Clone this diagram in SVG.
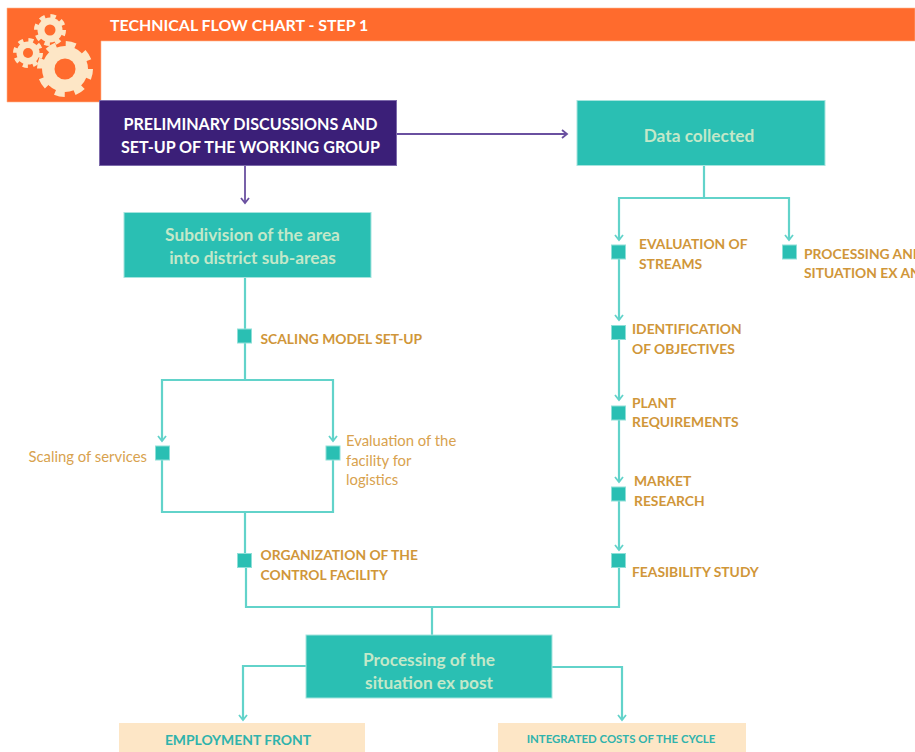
<svg xmlns="http://www.w3.org/2000/svg" width="915" height="752" viewBox="0 0 915 752">
<style>
text{font-family:Lato,"Liberation Sans",sans-serif}
.t{fill:#2abfb3;stroke:#a5e4de;stroke-width:1}
.s{fill:#2abfb3;stroke:#8fdfd8;stroke-width:1}
.c{fill:none;stroke:#62d3ca;stroke-width:2.200}
.p{fill:none;stroke:#6a50a0;stroke-width:1.800}
.w{fill:#fff;font-weight:700;font-size:16.100px;text-anchor:middle}
.g{fill:#c3e8c9;font-weight:700;font-size:17.300px;text-anchor:middle}
.l{fill:#d09639;font-weight:700;font-size:13.850px}
.n{fill:#d8a24e;font-size:14.850px}
.y{fill:#2fb3ac;font-weight:700;text-anchor:middle}
</style>
<defs>
<marker id="at" markerWidth="12" markerHeight="10" refX="9" refY="5" orient="auto" markerUnits="userSpaceOnUse"><path d="M4 1 L9 5 L4 9" fill="none" stroke="#62d3ca" stroke-width="1.8"/></marker>
<marker id="ap" markerWidth="12" markerHeight="10" refX="9" refY="5" orient="auto" markerUnits="userSpaceOnUse"><path d="M4 1 L9 5 L4 9" fill="none" stroke="#6a50a0" stroke-width="1.8"/></marker>
<clipPath id="pc"><rect x="306" y="635" width="246" height="54.500"/></clipPath>
</defs>
<g id="header">
<path d="M7 8H915V41H101V102H7Z" fill="#ff6b2d" stroke="#ffb58f" stroke-width="0.6"/>
<text x="110" y="31" fill="#fff" font-weight="700" font-size="15.950px">TECHNICAL FLOW CHART - STEP 1</text>
<g id="gears" fill="#fde6c6">
<circle cx="65" cy="69" r="23"/>
<circle cx="65" cy="69" r="24.500" fill="none" stroke="#fde6c6" stroke-width="7" stroke-dasharray="9.6 9.64"/>
<circle cx="65" cy="69" r="10.500" fill="#ff6b2d"/>
<circle cx="50" cy="30" r="12.500"/>
<circle cx="50" cy="30" r="13.500" fill="none" stroke="#fde6c6" stroke-width="5" stroke-dasharray="5.3 5.3"/>
<circle cx="50" cy="30" r="5.500" fill="#ff6b2d"/>
<circle cx="28" cy="53" r="11.500"/>
<circle cx="28" cy="53" r="12.500" fill="none" stroke="#fde6c6" stroke-width="5" stroke-dasharray="4.9 4.92"/>
<circle cx="28" cy="53" r="5" fill="#ff6b2d"/>
</g>
</g>
<g id="connectors">
<path class="p" d="M396 134H567" marker-end="url(#ap)"/>
<path class="p" d="M245 166V203" marker-end="url(#ap)"/>
<path class="c" d="M245 278V380"/>
<path class="c" d="M245 380H162V441" marker-end="url(#at)"/>
<path class="c" d="M245 380H333V441" marker-end="url(#at)"/>
<path class="c" d="M162 453V512H333V453"/>
<path class="c" d="M245 512V560"/>
<path class="c" d="M246 560V607H619V560"/>
<path class="c" d="M432 607V635"/>
<path class="c" d="M704 166V198"/>
<path class="c" d="M704 198H619V240" marker-end="url(#at)"/>
<path class="c" d="M704 198H789V240" marker-end="url(#at)"/>
<path class="c" d="M619 253V320" marker-end="url(#at)"/>
<path class="c" d="M619 333V400" marker-end="url(#at)"/>
<path class="c" d="M619 413V482" marker-end="url(#at)"/>
<path class="c" d="M619 494V550" marker-end="url(#at)"/>
<path class="c" d="M306 666H243V720" marker-end="url(#at)"/>
<path class="c" d="M552 667H622V720" marker-end="url(#at)"/>
</g>
<g id="n-prelim">
<rect x="99.500" y="100.500" width="297" height="65" fill="#3b1f78" stroke="#7d6bab"/>
<text class="w" x="250.500" y="129.500">PRELIMINARY DISCUSSIONS AND</text>
<text class="w" x="250.500" y="152.500">SET-UP OF THE WORKING GROUP</text>
</g>
<g id="n-data">
<rect class="t" x="577" y="100.500" width="248" height="65"/>
<text class="g" x="699" y="142">Data collected</text>
</g>
<g id="n-sub">
<rect class="t" x="124" y="212.500" width="247" height="65"/>
<text class="g" x="252.500" y="241">Subdivision of the area</text>
<text class="g" x="252.500" y="264">into district sub-areas</text>
</g>
<g id="n-scaling"><rect class="s" x="237.500" y="329" width="14" height="14"/><text class="l" x="260.500" y="344">SCALING MODEL SET-UP</text></g>
<g id="n-services"><rect class="s" x="155.500" y="446" width="14" height="14"/><text class="n" x="28.500" y="462">Scaling of services</text></g>
<g id="n-evalfac"><rect class="s" x="326" y="446" width="14" height="14"/>
<text class="n" x="346" y="446">Evaluation of the</text><text class="n" x="346" y="466">facility for</text><text class="n" x="346" y="485">logistics</text></g>
<g id="n-org"><rect class="s" x="237.500" y="553.500" width="14" height="14"/>
<text class="l" x="260.500" y="560">ORGANIZATION OF THE</text><text class="l" x="260.500" y="580">CONTROL FACILITY</text></g>
<g id="n-streams"><rect class="s" x="611.500" y="245" width="14" height="14"/>
<text class="l" x="639" y="249">EVALUATION OF</text><text class="l" x="639" y="269">STREAMS</text></g>
<g id="n-procan"><rect class="s" x="782.500" y="245" width="14" height="14"/>
<text class="l" x="804" y="259">PROCESSING AND</text><text class="l" x="804" y="278">SITUATION EX ANTE</text></g>
<g id="n-ident"><rect class="s" x="611.500" y="325.500" width="14" height="14"/>
<text class="l" x="632" y="334">IDENTIFICATION</text><text class="l" x="632" y="354">OF OBJECTIVES</text></g>
<g id="n-plant"><rect class="s" x="611.500" y="406" width="14" height="14"/>
<text class="l" x="632" y="408">PLANT</text><text class="l" x="632" y="427">REQUIREMENTS</text></g>
<g id="n-market"><rect class="s" x="611.500" y="487" width="14" height="14"/>
<text class="l" x="634" y="486">MARKET</text><text class="l" x="634" y="506">RESEARCH</text></g>
<g id="n-feas"><rect class="s" x="611.500" y="553.500" width="14" height="14"/>
<text class="l" x="632" y="577">FEASIBILITY STUDY</text></g>
<g id="n-expost">
<rect class="t" x="306" y="635" width="246" height="63"/>
<g clip-path="url(#pc)">
<text class="g" x="429" y="666">Processing of the</text>
<text class="g" x="429" y="689">situation ex post</text>
</g>
</g>
<g id="n-employ">
<rect x="119" y="723" width="246" height="30" fill="#fde6c6"/>
<text class="y" x="238" y="745" font-size="13.900px">EMPLOYMENT FRONT</text>
</g>
<g id="n-costs">
<rect x="498" y="723" width="248" height="30" fill="#fde6c6"/>
<text class="y" x="621" y="743" font-size="11.400px">INTEGRATED COSTS OF THE CYCLE</text>
</g>
</svg>
